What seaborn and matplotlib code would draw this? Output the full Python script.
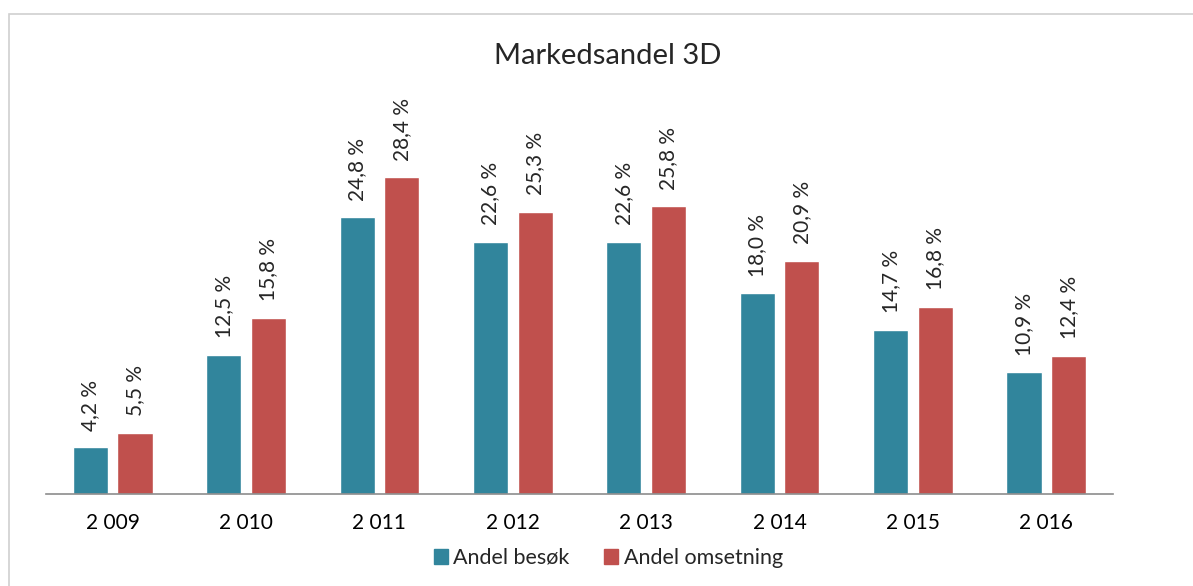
import matplotlib
matplotlib.use("Agg")
import matplotlib.pyplot as plt
import seaborn as sns
import pandas as pd
from matplotlib.patches import Rectangle

years = ["2 009", "2 010", "2 011", "2 012", "2 013", "2 014", "2 015", "2 016"]
besok = [4.2, 12.5, 24.8, 22.6, 22.6, 18.0, 14.7, 10.9]
omsetning = [5.5, 15.8, 28.4, 25.3, 25.8, 20.9, 16.8, 12.4]
series_names = ["Andel besøk", "Andel omsetning"]
colors = ["#31859C", "#C0504D"]

sns.set_theme(style="white")
plt.rcParams["font.family"] = ["Lato", "DejaVu Sans"]

df = pd.DataFrame({
    "year": years * 2,
    "value": besok + omsetning,
    "series": [series_names[0]] * len(years) + [series_names[1]] * len(years),
})

W, H = 1193, 586
fig = plt.figure(figsize=(W / 100, H / 100), dpi=100)
ax = fig.add_axes([46 / W, 1 - 494 / H, (1113 - 46) / W, (494 - 159.5) / H])

sns.barplot(data=df, x="year", y="value", hue="series", palette=colors,
            width=0.67, gap=0.215, ax=ax, legend=False, saturation=1)
ax.set_ylim(0, 30)
ax.set_xlim(-0.5, len(years) - 0.5)
ax.set_xlabel("")
ax.set_ylabel("")
ax.set_yticks([])
for s in ["top", "right", "left"]:
    ax.spines[s].set_visible(False)
ax.spines["bottom"].set_color("#8C8C8C")
ax.spines["bottom"].set_linewidth(1.2)
ax.tick_params(axis="x", length=0, pad=14, labelsize=15, colors="black")

for cont in ax.containers:
    labels = [f"{v:.1f} %".replace(".", ",") for v in cont.datavalues]
    ax.bar_label(cont, labels=labels, rotation=90, padding=12, fontsize=15)

fig.text(0.509, 1 - 56 / H, "Markedsandel 3D", ha="center", va="center", fontsize=21)

# legend
handles = [Rectangle((0, 0), 1, 1, color=c) for c in colors]
fig.legend(handles, series_names, loc="center", bbox_to_anchor=(0.51, 1 - 558 / H),
           ncol=2, frameon=False, fontsize=15.5, handlelength=0.65, handleheight=0.65,
           handletextpad=0.25, columnspacing=1.6)

# outer border
fig.patches.append(Rectangle((9 / W, -0.1), 1.2, 1 - 14 / H + 0.1, transform=fig.transFigure,
                             fill=False, edgecolor="#D0D0D0", linewidth=1.2, figure=fig))

fig.savefig("out.png", dpi=100, facecolor="white")
